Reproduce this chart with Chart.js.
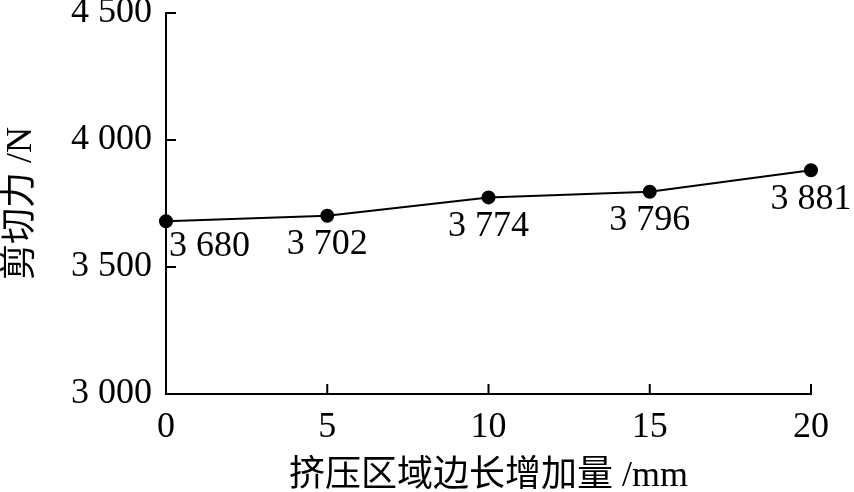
<!DOCTYPE html>
<html>
<head>
  <meta charset="utf-8">
  <title>剪切力</title>
  <script src="https://cdn.jsdelivr.net/npm/chart.js@4"></script>
  <style>
    html, body { margin: 0; padding: 0; background: #fff; }
    #wrap { width: 854px; height: 492px; }
  </style>
</head>
<body>
  <div id="wrap"><canvas id="chart"></canvas></div>

  <script>
    // 数据
    const xValues = [0, 5, 10, 15, 20];
    const shearForce = [3680, 3702, 3774, 3796, 3881];
    const yTicks = [3000, 3500, 4000, 4500];
    const xTitle = '挤压区域边长增加量 /mm';
    const yTitle = '剪切力 /N';

    const serif = '"Liberation Serif", "Noto Sans CJK SC", serif';
    const fontSize = 36;

    // 千位用空格分开
    function fmt(v) {
      return String(v).replace(/\B(?=(\d{3})+(?!\d))/g, ' ');
    }

    // 向内的刻度线
    const innerTicks = {
      id: 'innerTicks',
      afterDraw(chart) {
        const ctx = chart.ctx;
        const x = chart.scales.x, y = chart.scales.y;
        ctx.save();
        ctx.strokeStyle = '#000';
        ctx.lineWidth = 2;
        ctx.beginPath();
        yTicks.forEach(v => {
          const py = y.getPixelForValue(v);
          ctx.moveTo(x.left, py);
          ctx.lineTo(x.left + 10, py);
        });
        xValues.forEach(v => {
          const px = x.getPixelForValue(v);
          ctx.moveTo(px, y.bottom);
          ctx.lineTo(px, y.bottom - 10);
        });
        ctx.stroke();
        ctx.restore();
      }
    };

    // 数据标签
    const pointLabels = {
      id: 'pointLabels',
      afterDatasetsDraw(chart) {
        const ctx = chart.ctx;
        const meta = chart.getDatasetMeta(0);
        ctx.save();
        ctx.font = fontSize + 'px ' + serif;
        ctx.fillStyle = '#000';
        ctx.textBaseline = 'middle';
        meta.data.forEach((pt, i) => {
          ctx.textAlign = i === 0 ? 'left' : 'center';
          const dx = i === 0 ? 3 : 0;
          const dy = i === 0 ? 25 : 29;
          ctx.fillText(fmt(shearForce[i]), pt.x + dx, pt.y + dy);
        });
        ctx.restore();
      }
    };

    new Chart(document.getElementById('chart'), {
      type: 'line',
      data: {
        datasets: [{
          data: xValues.map((x, i) => ({ x: x, y: shearForce[i] })),
          borderColor: '#000',
          backgroundColor: '#000',
          borderWidth: 2,
          pointRadius: 6,
          pointHoverRadius: 6,
          tension: 0,
          clip: false
        }]
      },
      options: {
        responsive: true,
        maintainAspectRatio: false,
        animation: false,
        layout: { padding: { top: 13, right: 43, left: 0, bottom: 0 } },
        plugins: { legend: { display: false }, tooltip: { enabled: false } },
        scales: {
          x: {
            type: 'linear',
            min: 0, max: 20,
            afterBuildTicks: s => { s.ticks = xValues.map(v => ({ value: v })); },
            afterFit: s => { s.height = 98; s.paddingLeft = 0; s.paddingRight = 0; },
            border: { color: '#000', width: 2 },
            grid: { display: false, drawTicks: false },
            ticks: { color: '#000', font: { family: serif, size: fontSize }, padding: 12 },
            title: { display: true, text: xTitle, color: '#000', font: { family: serif, size: fontSize }, padding: { top: 4, bottom: -6 } }
          },
          y: {
            min: 3000, max: 4500,
            afterBuildTicks: s => { s.ticks = yTicks.map(v => ({ value: v })); },
            afterFit: s => { s.width = 166; s.paddingTop = 0; s.paddingBottom = 0; },
            border: { color: '#000', width: 2 },
            grid: { display: false, drawTicks: false },
            ticks: { color: '#000', font: { family: serif, size: fontSize }, padding: 14, callback: v => fmt(v) },
            title: { display: true, text: yTitle, color: '#000', font: { family: serif, size: fontSize }, padding: { top: 0, bottom: 4 } }
          }
        }
      },
      plugins: [innerTicks, pointLabels]
    });
  </script>
</body>
</html>
